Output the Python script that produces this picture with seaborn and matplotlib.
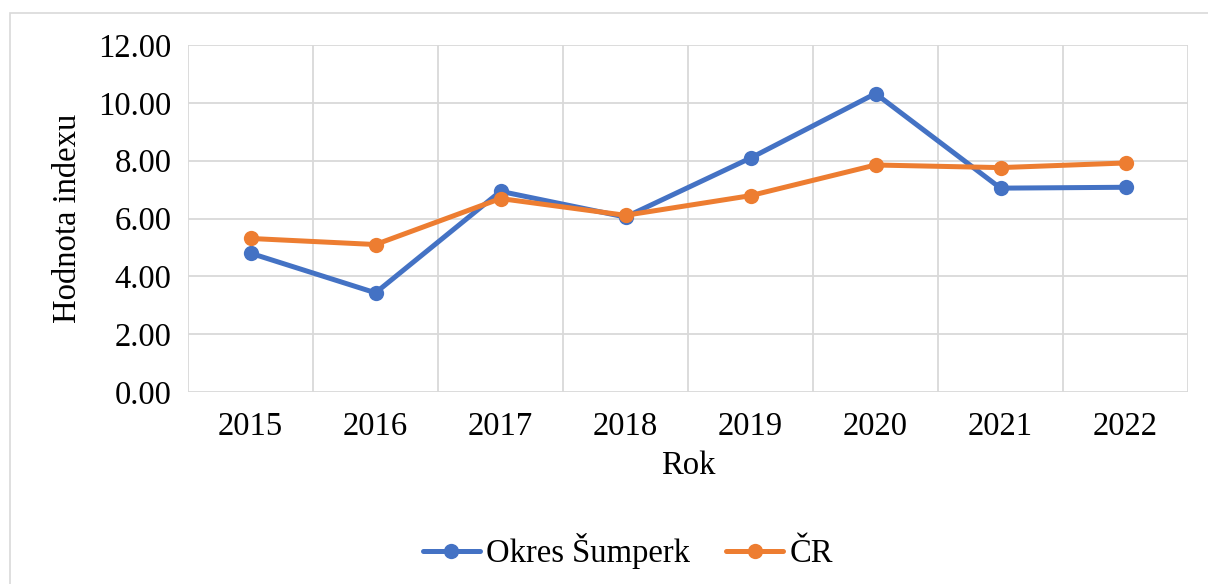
import matplotlib
matplotlib.use("Agg")
import matplotlib.pyplot as plt
import seaborn as sns
import pandas as pd
from matplotlib.patches import Rectangle
from matplotlib.lines import Line2D

years = ["2015", "2016", "2017", "2018", "2019", "2020", "2021", "2022"]
sumperk = [4.80, 3.43, 6.94, 6.05, 8.09, 10.32, 7.05, 7.08]
cr = [5.31, 5.10, 6.69, 6.11, 6.79, 7.85, 7.76, 7.92]
series_names = ["Okres Šumperk", "ČR"]
colors = ["#4472C4", "#ED7D31"]
yticks = [0, 2, 4, 6, 8, 10, 12]

sns.set_theme(style="white")
plt.rcParams['font.family'] = ['Liberation Serif', 'DejaVu Serif']
plt.rcParams['text.color'] = 'black'
plt.rcParams['axes.labelcolor'] = 'black'
plt.rcParams['xtick.color'] = 'black'
plt.rcParams['ytick.color'] = 'black'

FS = 23.5

df = pd.DataFrame({
    "x": list(range(len(years))) * 2,
    "value": sumperk + cr,
    "series": [series_names[0]] * len(years) + [series_names[1]] * len(years),
})

fig = plt.figure(figsize=(12.08, 5.84), dpi=100)
ax = fig.add_axes([188/1208, 1-392/584, 1000/1208, 347/584])

# outer chart border
fig.patches.append(Rectangle((10/1208, -0.01), 1.05, 1-13/584+0.01, transform=fig.transFigure,
                             fill=False, edgecolor="#D9D9D9", linewidth=1.2))

sns.lineplot(data=df, x="x", y="value", hue="series", palette=colors, marker="o",
             markersize=11, linewidth=3.6, markeredgewidth=0, ax=ax, legend=False, zorder=3)

ax.set_xlim(-0.5, len(years) - 0.5)
ax.set_ylim(0, 12)
ax.set_yticks(yticks)
ax.set_yticklabels([f"{v:.2f}" for v in yticks], fontsize=FS)
ax.set_xticks(range(len(years)))
ax.set_xticklabels(years, fontsize=FS)
ax.tick_params(axis="y", length=0, pad=12)
ax.tick_params(axis="x", length=0, pad=14)

for y in yticks:
    ax.axhline(y, color="#D9D9D9", linewidth=1.3, zorder=1)
for i in range(len(years) + 1):
    ax.axvline(i - 0.5, color="#D9D9D9", linewidth=1.3, zorder=1)
for s in ax.spines.values():
    s.set_visible(False)

ax.set_xlabel("Rok", fontsize=FS, labelpad=6)
ax.set_ylabel("Hodnota indexu", fontsize=FS, labelpad=11)

handles = [Line2D([0], [0], color=c, marker="o", markersize=11, linewidth=3.6, markeredgewidth=0)
           for c in colors]
fig.legend(handles, series_names, loc="center", bbox_to_anchor=(0.52, 1-551/584), ncol=2,
           frameon=False, fontsize=FS, handlelength=1.75, columnspacing=1.1, handletextpad=0.2)

fig.savefig("out.png", dpi=100, facecolor="white")
